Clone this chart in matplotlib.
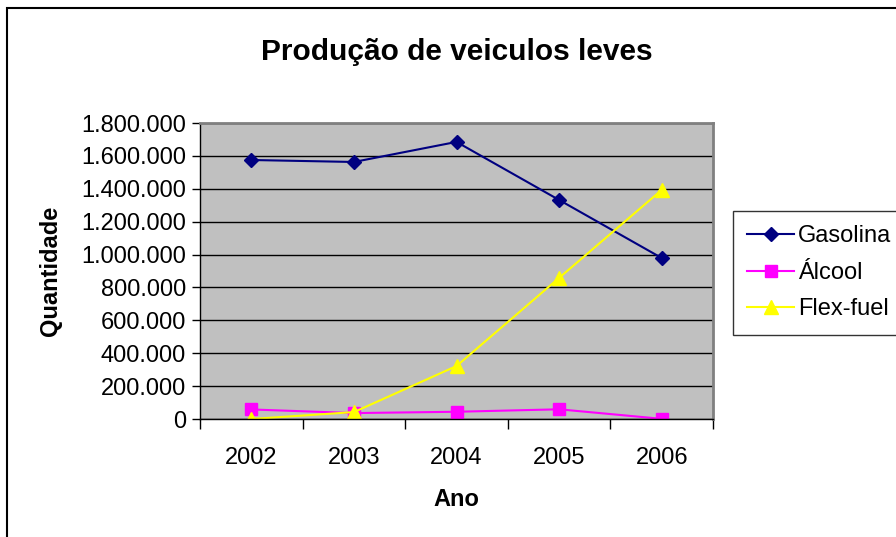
import matplotlib.pyplot as plt
from matplotlib.patches import Rectangle
from matplotlib.ticker import FuncFormatter, FixedLocator

plt.rcParams['font.family'] = ['Liberation Sans', 'DejaVu Sans']

anos = ["2002", "2003", "2004", "2005", "2006"]
gasolina = [1575000, 1563000, 1685000, 1332000, 979000]
alcool = [58000, 36000, 44000, 59000, 1000]
flex = [0, 42000, 322000, 858000, 1393000]

fig = plt.figure(figsize=(8.96, 5.37), dpi=100)
ax = fig.add_axes([200 / 896, 1 - 419 / 537, 513 / 896, 296 / 537])
ax.set_facecolor("#C0C0C0")

x = list(range(len(anos)))
ax.plot(x, gasolina, color="#000080", marker="D", markersize=7, lw=1.5, label="Gasolina")
ax.plot(x, alcool, color="#FF00FF", marker="s", markersize=8, lw=1.5, label="Álcool")
ax.plot(x, flex, color="#FFFF00", marker="^", markersize=10, lw=1.5, label="Flex-fuel")

ax.set_xlim(-0.5, len(anos) - 0.5)
ax.set_ylim(0, 1800000)
ax.set_yticks(range(0, 1800001, 200000))
ax.yaxis.set_major_formatter(FuncFormatter(lambda v, p: f"{int(v):,}".replace(",", ".")))
ax.yaxis.grid(True, color="black", lw=1)
ax.set_axisbelow(True)

ax.set_xticks(x)
ax.set_xticklabels(anos)
ax.xaxis.set_minor_locator(FixedLocator([i - 0.5 for i in range(len(anos) + 1)]))
ax.tick_params(axis="x", which="major", length=0, labelsize=17, pad=20)
ax.tick_params(axis="x", which="minor", length=7, width=1, direction="out")
ax.tick_params(axis="y", length=6, width=1, direction="out", labelsize=17, pad=4)

for s in ["top", "right"]:
    ax.spines[s].set_color("#808080")
    ax.spines[s].set_linewidth(2)
for s in ["left", "bottom"]:
    ax.spines[s].set_color("black")
    ax.spines[s].set_linewidth(1)

ax.set_title("Produção de veiculos leves", fontsize=21.5, fontweight="bold", pad=45)
ax.set_xlabel("Ano", fontsize=17, fontweight="bold", labelpad=14)
ax.set_ylabel("Quantidade", fontsize=17, fontweight="bold", labelpad=14)

leg = ax.legend(loc="upper left", bbox_to_anchor=(733 / 896, 1 - 211 / 537),
                bbox_transform=fig.transFigure, frameon=True, fancybox=False,
                fontsize=17, handlelength=2.0, handletextpad=0.15,
                borderpad=0.6, labelspacing=0.62, borderaxespad=0)
leg.get_frame().set_edgecolor("black")
leg.get_frame().set_linewidth(1)

fig.patches.append(Rectangle((7 / 896, -0.05), 1.1, 1 - 8 / 537 + 0.05,
                             transform=fig.transFigure, fill=False,
                             edgecolor="black", lw=1.5))

fig.savefig("out.png", dpi=100)
